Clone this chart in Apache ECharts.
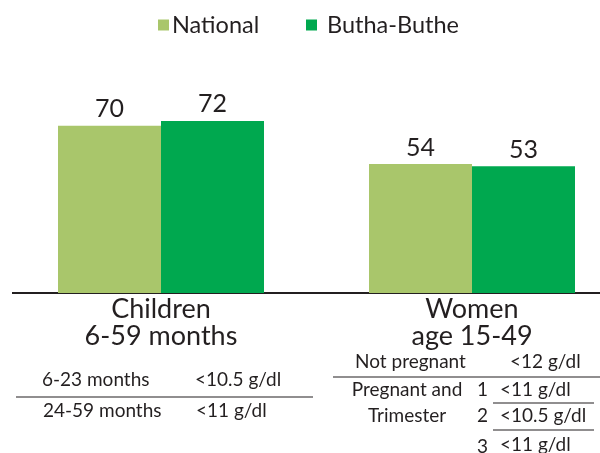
<!DOCTYPE html>
<html>
<head>
<meta charset="utf-8">
<script src="https://cdn.jsdelivr.net/npm/echarts@6/dist/echarts.min.js"></script>
<style>html,body{margin:0;padding:0;background:#fff;}#c{width:600px;height:453px;}</style>
</head>
<body>
<div id="c"></div>
<script>
const categories = ['Children\n6-59 months', 'Women\nage 15-49'];
const seriesNames = ['National', 'Butha-Buthe'];
const nationalValues = [70, 54];
const buthaValues = [72, 53];
const childRows = [['6-23 months', '<10.5 g/dl'], ['24-59 months', '<11 g/dl']];
const womenNotPregnant = ['Not pregnant', '<12 g/dl'];
const womenPregnantLabel = ['Pregnant and', 'Trimester'];
const trimesters = [['1', '<11 g/dl'], ['2', '<10.5 g/dl'], ['3', '<11 g/dl']];

const FONT = 'Lato';
const TXT = '#231f20';
const chart = echarts.init(document.getElementById('c'));

function txt(x, y, s, align, size) {
  return { type: 'text', x: x, y: y,
    style: { text: s, fill: TXT, font: (size || 19) + 'px ' + FONT, textAlign: align || 'left', textVerticalAlign: 'middle' } };
}
function line(x1, y1, x2, y2, w) {
  return { type: 'line', shape: { x1: x1, y1: y1, x2: x2, y2: y2 }, style: { stroke: TXT, lineWidth: w || 1.2 } };
}

const graphics = [
  line(12, 293, 600, 293, 2),
  txt(42, 380, childRows[0][0]), txt(195, 380, childRows[0][1]),
  line(16, 397, 313, 397),
  txt(43, 411, childRows[1][0]), txt(196, 411, childRows[1][1]),
  txt(355, 362, womenNotPregnant[0]), txt(510, 362, womenNotPregnant[1]),
  line(333, 377, 600, 377),
  txt(407, 390, womenPregnantLabel[0], 'center'), txt(407, 416, womenPregnantLabel[1], 'center'),
  txt(488, 390, trimesters[0][0], 'right'), txt(500, 390, trimesters[0][1]),
  line(493, 403, 594, 403),
  txt(488, 416, trimesters[1][0], 'right'), txt(500, 416, trimesters[1][1]),
  line(493, 430, 594, 430),
  txt(488, 447, trimesters[2][0], 'right'), txt(500, 445, trimesters[2][1])
];

const legendText = { fontSize: 23.5, color: TXT, fontFamily: FONT };
chart.setOption({
  animation: false,
  textStyle: { fontFamily: FONT, color: TXT },
  legend: [
    { left: 153, top: 8, itemWidth: 11, itemHeight: 11, icon: 'rect', itemGap: 0,
      textStyle: Object.assign({ padding: [0, 0, 0, -2] }, legendText), data: [seriesNames[0]] },
    { left: 301, top: 8, itemWidth: 11, itemHeight: 11, icon: 'rect', itemGap: 0,
      textStyle: Object.assign({ padding: [0, 0, 0, 5] }, legendText), data: [seriesNames[1]] }
  ],
  grid: { left: 5.5, width: 622, top: 54, bottom: 160, outerBoundsMode: 'none', containLabel: false },
  xAxis: {
    type: 'category', data: categories,
    axisLine: { show: false }, axisTick: { show: false },
    axisLabel: { fontSize: 27, lineHeight: 27, color: TXT, margin: 3, fontFamily: FONT }
  },
  yAxis: { type: 'value', min: 0, max: 100, show: false, splitLine: { show: false } },
  series: [
    { name: seriesNames[0], type: 'bar', data: nationalValues, barWidth: 103, barGap: '0%',
      itemStyle: { color: '#a9c66b' },
      label: { show: true, position: 'top', distance: 4, fontSize: 25, color: TXT, fontFamily: FONT } },
    { name: seriesNames[1], type: 'bar', data: buthaValues, barWidth: 103, barGap: '0%',
      itemStyle: { color: '#00a84f' },
      label: { show: true, position: 'top', distance: 4, fontSize: 25, color: TXT, fontFamily: FONT } }
  ],
  graphic: graphics
});
</script>
</body>
</html>
